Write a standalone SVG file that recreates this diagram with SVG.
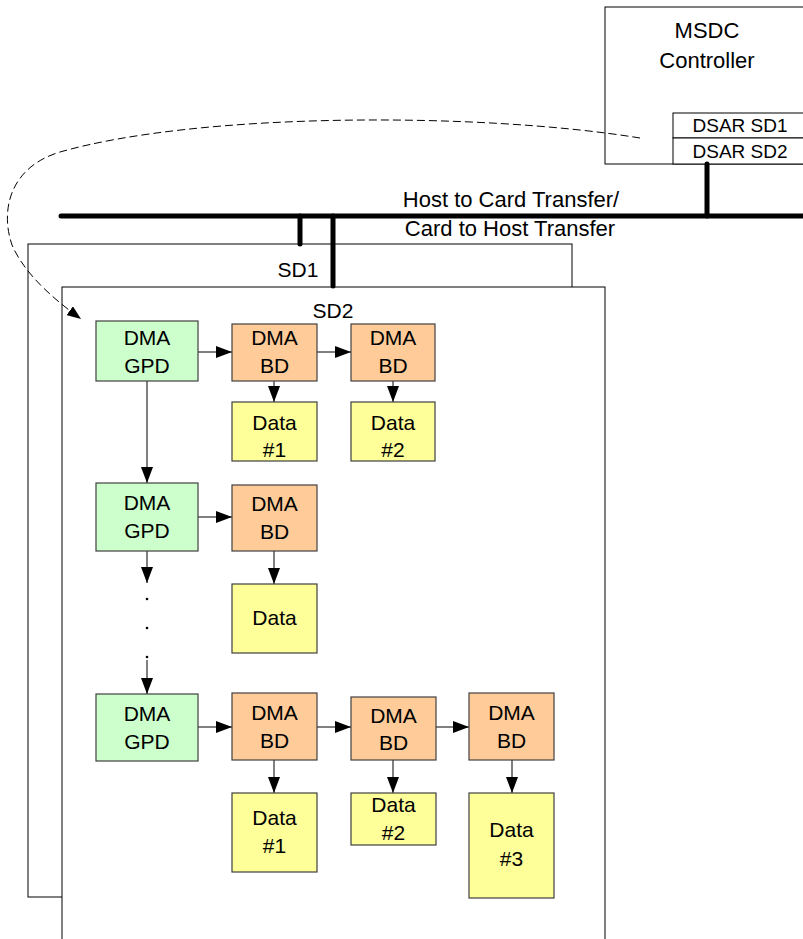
<svg xmlns="http://www.w3.org/2000/svg" width="803" height="939" viewBox="0 0 803 939">
<style>
text{font-family:"Liberation Sans",Arial,sans-serif;font-size:21px;fill:#000;text-anchor:middle}
.big{font-size:22px}
.dsar{font-size:19px}
.frame{fill:#fff;stroke:#000;stroke-width:1}
.gpd{fill:#ccffcc;stroke:#404040;stroke-width:1.2}
.bd{fill:#ffcc99;stroke:#404040;stroke-width:1.2}
.data{fill:#ffff99;stroke:#404040;stroke-width:1.2}
.bus{stroke:#000;stroke-width:5;stroke-linecap:round;fill:none}
.link{stroke:#000;stroke-width:1;fill:none;marker-end:url(#arr)}
</style>
<defs>
<marker id="arr" markerUnits="userSpaceOnUse" markerWidth="16" markerHeight="12" refX="16" refY="6" orient="auto">
<path d="M0,0 L16,6 L0,12 z" fill="#000"/>
</marker>
<marker id="arrd" markerUnits="userSpaceOnUse" markerWidth="14" markerHeight="11" refX="14" refY="5.5" orient="auto">
<path d="M0,0 L14,5.5 L0,11 z" fill="#000"/>
</marker>
</defs>
<rect width="803" height="939" fill="#fff"/>
<g id="msdc">
<rect class="frame" x="605" y="7" width="210" height="157"/>
<text class="big" x="707" y="38">MSDC</text>
<text class="big" x="707" y="68">Controller</text>
<rect class="frame" x="673" y="113" width="140" height="25"/>
<rect class="frame" x="673" y="138" width="140" height="26"/>
<text class="dsar" x="740" y="132">DSAR SD1</text>
<text class="dsar" x="740" y="158">DSAR SD2</text>
</g>
<g id="sd1">
<rect class="frame" x="28" y="244" width="544" height="653"/>
<text x="298" y="277">SD1</text>
</g>
<g id="sd2">
<rect class="frame" x="62" y="287" width="543" height="660"/>
<text x="333" y="318">SD2</text>
</g>
<g id="bus">
<line class="bus" x1="61" y1="216" x2="810" y2="216"/>
<line class="bus" x1="707" y1="164" x2="707" y2="216"/>
<line class="bus" x1="300" y1="216" x2="300" y2="244"/>
<line class="bus" x1="333" y1="216" x2="333" y2="286"/>
<text class="big" x="511" y="207">Host to Card Transfer/</text>
<text class="big" x="510" y="236">Card to Host Transfer</text>
</g>
<g id="connectors">
<path d="M640,138 C480,112 200,112 60,152 C10,167 0,210 12,245 C25,275 55,300 81,319" fill="none" stroke="#000" stroke-width="1" stroke-dasharray="8,4" marker-end="url(#arrd)"/>
<line class="link" x1="198" y1="352" x2="232" y2="352"/>
<line class="link" x1="317" y1="352" x2="351" y2="352"/>
<line class="link" x1="274" y1="381" x2="274" y2="402"/>
<line class="link" x1="393" y1="381" x2="393" y2="402"/>
<line class="link" x1="147" y1="381" x2="147" y2="483"/>
<line class="link" x1="198" y1="517" x2="232" y2="517"/>
<line class="link" x1="274" y1="551" x2="274" y2="584"/>
<line class="link" x1="147" y1="551" x2="147" y2="583"/>
<line class="link" x1="147" y1="660" x2="147" y2="694"/>
<line class="link" x1="198" y1="727" x2="232" y2="727"/>
<line class="link" x1="317" y1="727" x2="351" y2="727"/>
<line class="link" x1="436" y1="727" x2="469" y2="727"/>
<line class="link" x1="274" y1="760" x2="274" y2="793"/>
<line class="link" x1="393" y1="760" x2="393" y2="793"/>
<line class="link" x1="512" y1="760" x2="512" y2="793"/>
</g>
<g id="dots">
<circle cx="147" cy="599" r="1.3"/>
<circle cx="147" cy="628" r="1.3"/>
<circle cx="147" cy="657" r="1.3"/>
</g>
<g id="gpd1"><rect class="gpd" x="96" y="321" width="102" height="60"/><text x="147" y="345">DMA</text><text x="147" y="373">GPD</text></g>
<g id="bd1a"><rect class="bd" x="232" y="324" width="85" height="57"/><text x="274.5" y="345">DMA</text><text x="274.5" y="373">BD</text></g>
<g id="bd1b"><rect class="bd" x="351" y="324" width="84" height="57"/><text x="393" y="345">DMA</text><text x="393" y="373">BD</text></g>
<g id="data1a"><rect class="data" x="232" y="402" width="85" height="59"/><text x="274.5" y="430">Data</text><text x="274.5" y="457">#1</text></g>
<g id="data1b"><rect class="data" x="351" y="402" width="84" height="59"/><text x="393" y="430">Data</text><text x="393" y="457">#2</text></g>
<g id="gpd2"><rect class="gpd" x="96" y="483" width="102" height="68"/><text x="147" y="510">DMA</text><text x="147" y="538">GPD</text></g>
<g id="bd2"><rect class="bd" x="232" y="485" width="85" height="66"/><text x="274.5" y="511">DMA</text><text x="274.5" y="539">BD</text></g>
<g id="data2"><rect class="data" x="232" y="584" width="85" height="69"/><text x="274.5" y="625">Data</text></g>
<g id="gpd3"><rect class="gpd" x="96" y="694" width="102" height="67"/><text x="147" y="721">DMA</text><text x="147" y="749">GPD</text></g>
<g id="bd3a"><rect class="bd" x="232" y="693" width="85" height="67"/><text x="274.5" y="720">DMA</text><text x="274.5" y="748">BD</text></g>
<g id="bd3b"><rect class="bd" x="351" y="697" width="85" height="63"/><text x="393.5" y="723">DMA</text><text x="393.5" y="750">BD</text></g>
<g id="bd3c"><rect class="bd" x="469" y="693" width="85" height="67"/><text x="511.5" y="720">DMA</text><text x="511.5" y="748">BD</text></g>
<g id="data3a"><rect class="data" x="232" y="793" width="85" height="79"/><text x="274.5" y="825">Data</text><text x="274.5" y="853">#1</text></g>
<g id="data3b"><rect class="data" x="351" y="793" width="85" height="52"/><text x="393.5" y="812">Data</text><text x="393.5" y="840">#2</text></g>
<g id="data3c"><rect class="data" x="469" y="793" width="85" height="105"/><text x="511.5" y="837">Data</text><text x="511.5" y="866">#3</text></g>
</svg>
